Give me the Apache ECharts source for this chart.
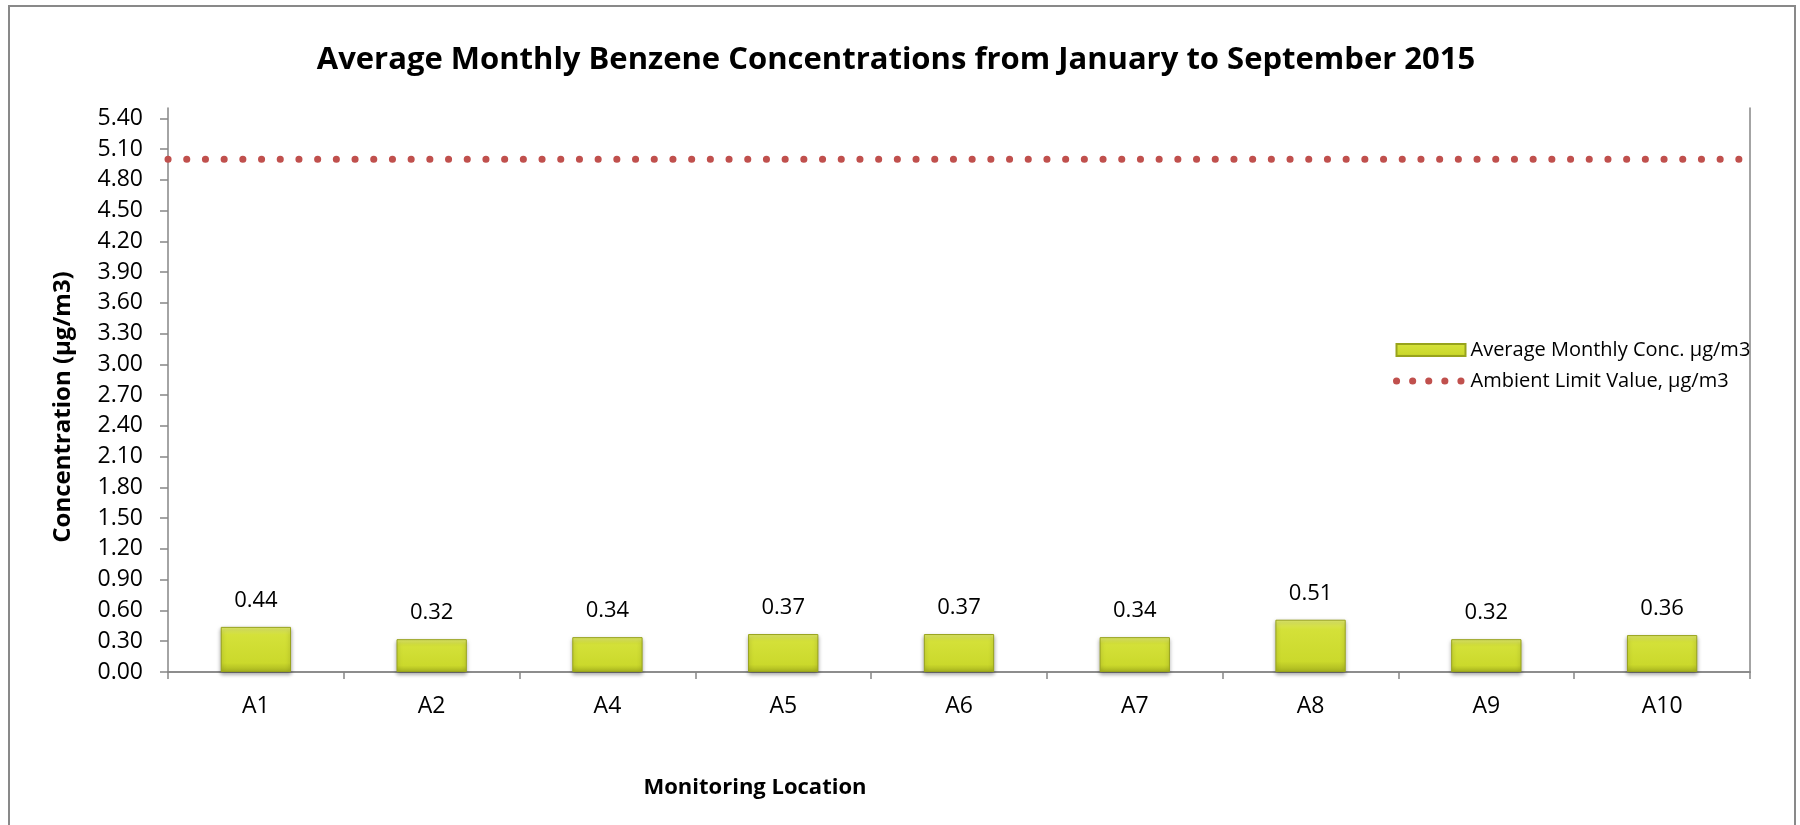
<!DOCTYPE html>
<html>
<head>
<meta charset="utf-8">
<title>Average Monthly Benzene Concentrations</title>
<script src="https://cdn.jsdelivr.net/npm/echarts@6/dist/echarts.min.js"></script>
<style>
  html, body { margin: 0; padding: 0; background: #fff; }
  #chart { width: 1800px; height: 825px; }
</style>
</head>
<body>
<div id="chart"></div>
<script>
// monitoring locations
var locations = ["A1", "A2", "A4", "A5", "A6", "A7", "A8", "A9", "A10"];
// average monthly concentration, µg/m3
var avgConc = [0.44, 0.32, 0.34, 0.37, 0.37, 0.34, 0.51, 0.32, 0.36];
// ambient limit value, µg/m3
var limitValue = [5.0, 5.0, 5.0, 5.0, 5.0, 5.0, 5.0, 5.0, 5.0];
// y tick labels
var yTicks = [0, 0.3, 0.6, 0.9, 1.2, 1.5, 1.8, 2.1, 2.4, 2.7, 3.0, 3.3, 3.6, 3.9, 4.2, 4.5, 4.8, 5.1, 5.4];

var FONT = "Open Sans";
var axisGrey = "#868686";
var limitRed = "#c0504d";

var chart = echarts.init(document.getElementById("chart"));

// bevel look of the bars
var barColor = new echarts.graphic.LinearGradient(0, 0, 0, 1, [
  { offset: 0, color: "#e3ec6e" },
  { offset: 0.18, color: "#d4e139" },
  { offset: 0.8, color: "#cbd92c" },
  { offset: 1, color: "#a8b41f" }
]);

var option = {
  animation: false,
  textStyle: { fontFamily: FONT, color: "#000" },
  title: {
    text: "Average Monthly Benzene Concentrations from January to September 2015",
    left: 891,
    textAlign: "center",
    top: 40,
    textStyle: { fontFamily: FONT, fontSize: 31, fontWeight: "bold", color: "#000" }
  },
  legend: {
    orient: "vertical",
    left: 1388,
    top: 335,
    itemWidth: 69,
    itemHeight: 12,
    itemGap: 11,
    textStyle: { fontFamily: FONT, fontSize: 20, color: "#000", lineHeight: 20 },
    data: [
      { name: "Average Monthly Conc. µg/m3", icon: "rect" },
      {
        name: "Ambient Limit Value, µg/m3",
        itemStyle: { opacity: 0 },
        lineStyle: { color: limitRed, width: 7, type: [0.1, 16], cap: "round" }
      }
    ]
  },
  grid: { left: 168, right: 50, top: 108, bottom: 153 },
  xAxis: [
    {
      type: "category",
      data: locations,
      position: "bottom",
      offset: 9,
      axisLine: { lineStyle: { color: axisGrey, width: 1.5 } },
      axisTick: { show: true, length: 7, lineStyle: { color: axisGrey, width: 1.5 } },
      axisLabel: { fontFamily: FONT, fontSize: 23, color: "#000", margin: 14 },
      splitLine: { show: false }
    },
    {
      // full-width axis for the limit line, also draws the zero line
      type: "category",
      data: locations,
      boundaryGap: false,
      position: "bottom",
      offset: 0,
      axisLine: { lineStyle: { color: axisGrey, width: 1.5 } },
      axisTick: { show: false },
      axisLabel: { show: false },
      splitLine: { show: false }
    }
  ],
  yAxis: [
    {
      type: "value",
      min: 0,
      max: 5.5,
      interval: 0.3,
      axisLine: { show: true, lineStyle: { color: axisGrey, width: 1.5 } },
      axisTick: { show: true, length: 8, customValues: yTicks, lineStyle: { color: axisGrey, width: 1.5 } },
      axisLabel: {
        customValues: yTicks,
        fontFamily: FONT,
        fontSize: 23,
        color: "#000",
        margin: 25,
        formatter: function (v) { return v.toFixed(2); }
      },
      splitLine: { show: false }
    },
    {
      type: "value",
      min: 0,
      max: 5.5,
      position: "right",
      axisLine: { show: true, lineStyle: { color: axisGrey, width: 1.5 } },
      axisTick: { show: false },
      axisLabel: { show: false },
      splitLine: { show: false }
    }
  ],
  series: [
    {
      name: "Average Monthly Conc. µg/m3",
      type: "bar",
      xAxisIndex: 0,
      yAxisIndex: 0,
      data: avgConc,
      barWidth: "40%",
      itemStyle: {
        color: barColor,
        borderColor: "#98a31c",
        borderWidth: 1,
        shadowBlur: 4,
        shadowColor: "rgba(0,0,0,0.35)",
        shadowOffsetY: 2
      },
      label: {
        show: true,
        position: "top",
        distance: 15,
        fontFamily: FONT,
        fontSize: 22,
        color: "#000",
        formatter: function (p) { return p.value.toFixed(2); }
      }
    },
    {
      name: "Ambient Limit Value, µg/m3",
      type: "line",
      xAxisIndex: 1,
      yAxisIndex: 0,
      data: limitValue,
      symbol: "none",
      z: 3,
      itemStyle: { color: limitRed },
      lineStyle: { color: limitRed, width: 7, type: [0.1, 18.6], cap: "round" }
    }
  ],
  graphic: [
    {
      type: "rect",
      shape: { x: 9, y: 6, width: 1786, height: 840 },
      style: { fill: "none", stroke: "#898989", lineWidth: 2 },
      silent: true
    },
    {
      type: "text",
      x: 63,
      y: 407,
      rotation: Math.PI / 2,
      style: {
        text: "Concentration (µg/m3)",
        font: "bold 24px " + FONT,
        fill: "#000",
        align: "center",
        verticalAlign: "middle"
      }
    },
    {
      type: "text",
      x: 755,
      y: 788,
      style: {
        text: "Monitoring Location",
        font: "bold 22px " + FONT,
        fill: "#000",
        align: "center",
        verticalAlign: "middle"
      }
    }
  ]
};

chart.setOption(option);
</script>
</body>
</html>
